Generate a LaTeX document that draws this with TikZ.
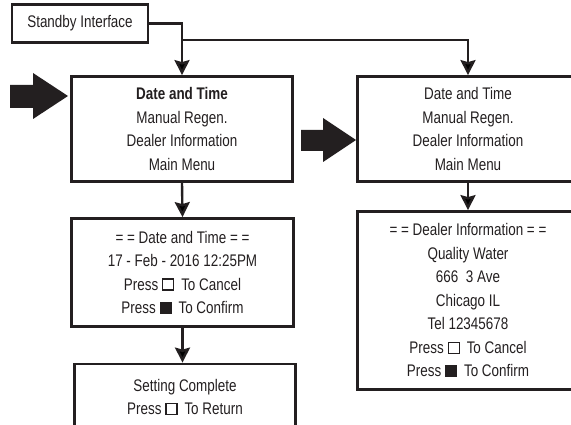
\documentclass[tikz,border=0pt]{standalone}
\usepackage{fontspec}
\setmainfont{Liberation Sans}[FakeStretch=0.80]
\usepackage{tikz}
\usetikzlibrary{arrows.meta,positioning}
\definecolor{ink}{HTML}{231F20}
\newcommand{\keyopen}{\tikz[baseline=0pt]\draw[ink,line width=1.2pt] (0,0) rectangle (11pt,11pt);}
\newcommand{\keyfull}{\tikz[baseline=0pt]\fill[ink] (0,-0.5pt) rectangle (12pt,12pt);}

\begin{document}
\begin{tikzpicture}[x=1pt,y=-1pt,
  screen/.style={draw=ink, line width=2.8pt, align=center, text=ink, inner sep=0pt,
    font=\fontsize{16.8}{23.5}\selectfont},
  link/.style={draw=ink, line width=2.4pt, -{Stealth[length=15pt,width=15pt,inset=2pt]}}]
\useasboundingbox (0,0) rectangle (571,425);
\clip (0,0) rectangle (571,425);

\node[screen, minimum width=136pt, minimum height=38pt] (standby) at (80,23.5) {Standby Interface};
\node[screen, minimum width=221pt, minimum height=105pt] (menu) at (182,129)
  {\textbf{Date and Time}\\ Manual Regen.\\ Dealer Information\\ Main Menu};
\node[screen, minimum width=222pt, minimum height=108pt] (dateset) at (182.5,272.5)
  {= = Date and Time = =\\ 17 - Feb - 2016 12:25PM\\
   Press \keyopen\hspace{7pt}To Cancel\\ Press \keyfull\hspace{7pt}To Confirm};
\node[screen, minimum width=221pt, minimum height=66pt] (done) at (185,397)
  {Setting Complete\\ Press \keyopen\hspace{7pt}To Return};
\node[screen, minimum width=221pt, minimum height=105pt] (menuR) at (468,129)
  {Date and Time\\ Manual Regen.\\ Dealer Information\\ Main Menu};
\node[screen, minimum width=221pt, minimum height=178pt] (dealer) at (468,300.5)
  {= = Dealer Information = =\\ Quality Water\\ 666~~3 Ave\\ Chicago IL\\ Tel 12345678\\
   Press \keyopen\hspace{7pt}To Cancel\\ Press \keyfull\hspace{7pt}To Confirm};

\coordinate (split) at (menu.north |- 0,40);
\draw[link] (standby.east) -| (menu.north);
\draw[link] (split) -| (menuR.north);
\draw[link] (menu.south) -- (dateset.north);
\draw[link] (dateset.south) -- (dateset.south |- done.north);
\draw[link] (menuR.south) -- (dealer.north);

\fill[ink] (10,85) -- (33,85) -- (33,73) -- (68,96) -- (33,119) -- (33,108) -- (10,108) -- cycle;
\fill[ink] (301,130) -- (323,130) -- (323,118) -- (356,140) -- (323,162) -- (323,151) -- (301,151) -- cycle;
\end{tikzpicture}
\end{document}
